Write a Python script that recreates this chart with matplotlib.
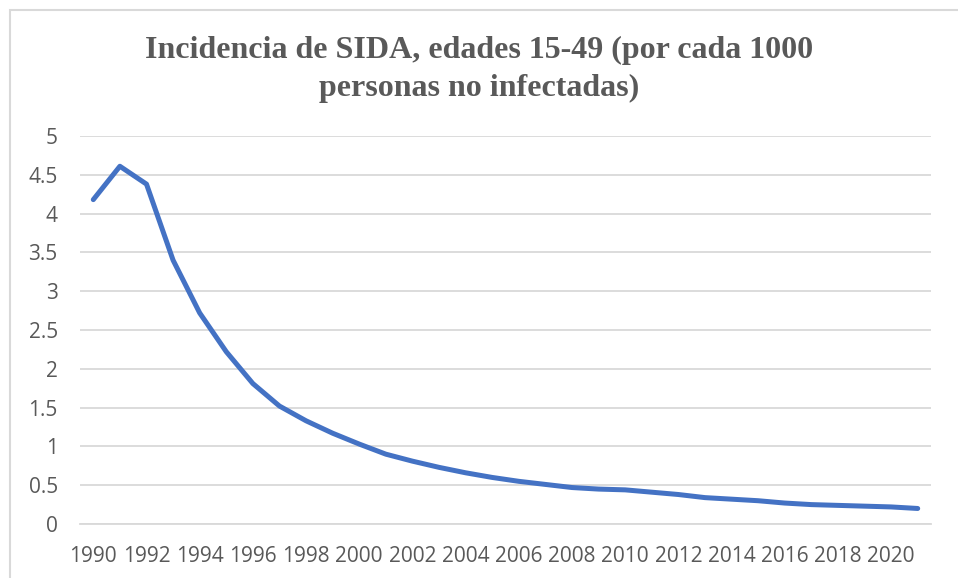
import matplotlib
matplotlib.use("Agg")
import matplotlib.pyplot as plt
from matplotlib.patches import Rectangle

years = list(range(1990, 2022))
incidence = [4.18, 4.61, 4.38, 3.40, 2.72, 2.22, 1.81, 1.52, 1.33, 1.17,
             1.03, 0.90, 0.81, 0.73, 0.66, 0.60, 0.55, 0.51, 0.47, 0.45,
             0.44, 0.41, 0.38, 0.34, 0.32, 0.30, 0.27, 0.25, 0.24, 0.23,
             0.22, 0.20]
y_ticks = [0, 0.5, 1, 1.5, 2, 2.5, 3, 3.5, 4, 4.5, 5]
y_labels = ["0", "0.5", "1", "1.5", "2", "2.5", "3", "3.5", "4", "4.5", "5"]
x_ticks = years[::2][:16]
title_lines = ["Incidencia de SIDA, edades 15-49 (por cada 1000",
               "personas no infectadas)"]

W, H = 958, 578
fig = plt.figure(figsize=(W / 100, H / 100), dpi=100)

# chart border (cropped at right/bottom like the source)
fig.patches.append(Rectangle((10 / W, -0.05), 1.1, (H - 10) / H + 0.05,
                             transform=fig.transFigure, fill=False,
                             edgecolor="#d9d9d9", linewidth=1.5))

ax = fig.add_axes([80 / W, (H - 524) / H, (931 - 80) / W, (524 - 136) / H])
ax.plot(years, incidence, color="#4472c4", linewidth=3.6,
        solid_capstyle="round", solid_joinstyle="round", zorder=3)

ax.set_xlim(1989.5, 2021.5)
ax.set_ylim(0, 5)
ax.set_yticks(y_ticks)
ax.set_yticklabels(y_labels)
ax.set_xticks(x_ticks)
ax.set_xticklabels([str(y) for y in x_ticks])
ax.grid(axis="y", color="#d9d9d9", linewidth=1.3)
ax.set_axisbelow(True)
for side in ["left", "right", "top"]:
    ax.spines[side].set_visible(False)
ax.spines["bottom"].set_color("#d9d9d9")
ax.spines["bottom"].set_linewidth(1.3)
ax.tick_params(length=0, labelsize=15, labelcolor="#595959")
ax.tick_params(axis="y", pad=16)
ax.tick_params(axis="x", pad=16)
for lab in ax.get_xticklabels() + ax.get_yticklabels():
    lab.set_fontfamily("Open Sans")

for line, base in zip(title_lines, [58, 96]):
    fig.text(0.5, 1 - base / H, line, ha="center", va="baseline",
             fontsize=23, fontweight="bold", family="Liberation Serif",
             color="#595959")

fig.savefig("out.png", dpi=100)
